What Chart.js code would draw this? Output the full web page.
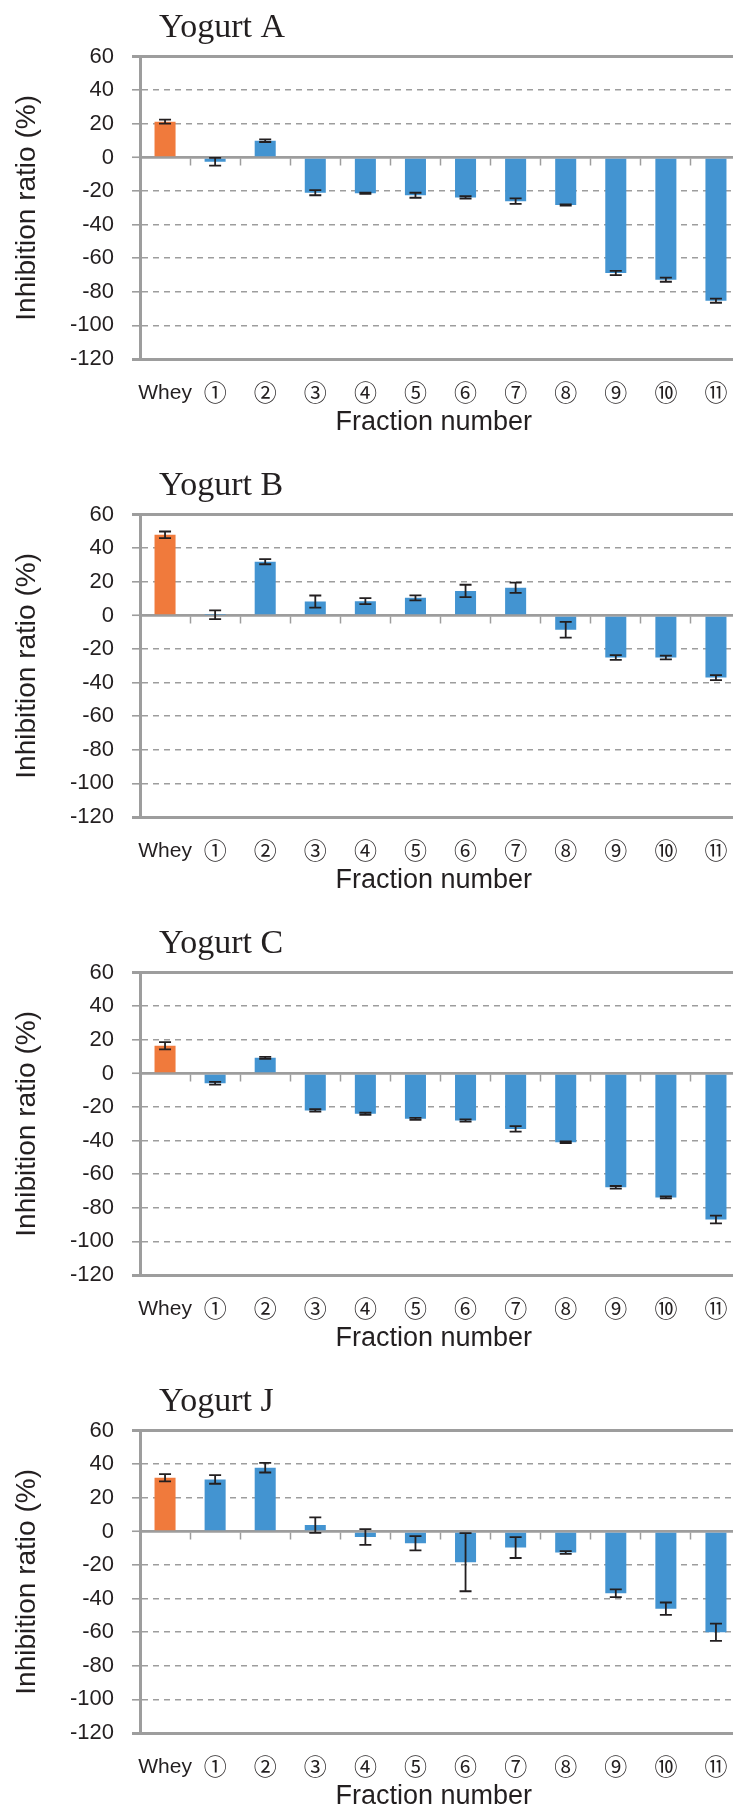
<!DOCTYPE html>
<html>
<head>
<meta charset="utf-8">
<script src="https://cdn.jsdelivr.net/npm/chart.js@4"></script>
<style>
html, body { margin:0; padding:0; overflow:hidden; background:#ffffff; width:733px; height:1807px; }
.panel { position:absolute; left:0; width:760px; height:458px; }
.panel canvas { display:block; }
</style>
</head>
<body>
<div class="panel" style="top:0px"><canvas id="chartA" width="760" height="458"></canvas></div>
<div class="panel" style="top:458px"><canvas id="chartB" width="760" height="458"></canvas></div>
<div class="panel" style="top:916px"><canvas id="chartC" width="760" height="458"></canvas></div>
<div class="panel" style="top:1374px"><canvas id="chartJ" width="760" height="458"></canvas></div>
<script>
// ---- data ----
const categories = ['Whey', '①', '②', '③', '④', '⑤', '⑥', '⑦', '⑧', '⑨', '⑩', '⑪'];
const yTickValues = [60, 40, 20, 0, -20, -40, -60, -80, -100, -120];

const yogurtA    = [21.3, -2.6, 10.0, -21.0, -21.3, -22.5, -23.8, -26.0, -28.3, -68.8, -72.8, -85.3];
const yogurtAErr = [1.2, 2.3, 0.8, 1.5, 0.3, 1.5, 0.7, 1.6, 0.4, 1.3, 1.2, 1.2];

const yogurtB    = [48.0, 0.4, 32.0, 8.3, 8.5, 10.5, 14.6, 16.5, -8.5, -25.0, -25.0, -37.0];
const yogurtBErr = [2.0, 2.6, 1.5, 3.6, 1.8, 1.5, 3.7, 3.0, 4.7, 1.4, 1.1, 1.5];

const yogurtC    = [16.5, -5.8, 9.3, -22.0, -24.0, -27.0, -28.0, -33.0, -41.0, -67.8, -73.8, -87.0];
const yogurtCErr = [2.2, 0.8, 0.6, 0.7, 0.6, 0.6, 0.7, 1.6, 0.5, 0.8, 0.6, 2.3];

const yogurtJ    = [32.0, 31.0, 38.0, 3.8, -3.3, -7.0, -18.3, -9.6, -12.5, -36.8, -46.0, -60.0];
const yogurtJErr = [2.2, 2.6, 2.9, 4.6, 4.7, 4.2, 17.3, 6.2, 0.8, 2.3, 3.7, 5.1];

// ---- styling ----
const SANS = "'Liberation Sans', 'Noto Sans CJK JP', sans-serif";
const SERIF = "'Liberation Serif', 'Times New Roman', serif";
const TEXT = '#231f20';
const AXIS = '#9d9d9d';
const ORANGE = '#F07A3C';
const BLUE = '#4394D1';

const errorBarPlugin = {
  id: 'errorBars',
  afterDatasetsDraw(chart) {
    const ctx = chart.ctx;
    const ys = chart.scales.y;
    chart.data.datasets.forEach((ds, di) => {
      const meta = chart.getDatasetMeta(di);
      if (!ds.errors) return;
      ctx.save();
      ctx.strokeStyle = TEXT;
      ctx.lineWidth = 1.8;
      meta.data.forEach((bar, i) => {
        const v = ds.data[i], e = ds.errors[i];
        const x = bar.x;
        const yt = ys.getPixelForValue(v + e);
        const yb = ys.getPixelForValue(v - e);
        ctx.beginPath();
        ctx.moveTo(x, yt); ctx.lineTo(x, yb);
        ctx.moveTo(x - 6, yt); ctx.lineTo(x + 6, yt);
        ctx.moveTo(x - 6, yb); ctx.lineTo(x + 6, yb);
        ctx.stroke();
      });
      ctx.restore();
    });
  }
};

const panelTitlePlugin = {
  id: 'panelTitle',
  afterDraw(chart, args, opts) {
    const { ctx, chartArea } = chart;
    ctx.save();
    ctx.font = '34px ' + SERIF;
    ctx.fillStyle = TEXT;
    ctx.textAlign = 'left';
    ctx.textBaseline = 'alphabetic';
    ctx.fillText(opts.text, chartArea.left + 19, chartArea.top - 19.5);
    ctx.restore();
  }
};

function isFrame(c) { return c.tick && (c.tick.value === 60 || c.tick.value === -120); }
function isZero(c) { return c.tick && c.tick.value === 0; }

function makeChart(id, title, values, errors) {
  const colors = categories.map((c, i) => i === 0 ? ORANGE : BLUE);
  return new Chart(document.getElementById(id), {
    type: 'bar',
    data: {
      labels: categories,
      datasets: [{
        data: values,
        errors: errors,
        backgroundColor: colors,
        borderWidth: 0,
        barPercentage: 0.42,
        categoryPercentage: 1.0,
        xAxisID: 'x',
        yAxisID: 'y'
      }]
    },
    options: {
      responsive: false,
      animation: false,
      devicePixelRatio: 1,
      layout: { padding: { top: 56.7, left: 0, right: 19, bottom: 18.8 } },
      plugins: {
        legend: { display: false },
        tooltip: { enabled: false },
        panelTitle: { text: title }
      },
      scales: {
        x: {
          type: 'category',
          position: 'bottom',
          offset: true,
          grid: { display: false },
          border: { display: false },
          ticks: {
            color: TEXT,
            font: c => ({ family: SANS, size: (c.index === 0 ? 21 : 23) }),
            padding: 14, maxRotation: 0, autoSkip: false
          },
          title: { display: true, text: 'Fraction number\u2002', color: TEXT, font: { family: SANS, size: 27 }, padding: { top: 0, bottom: 0 } },
          afterFit(s) { s.height = 80.2; s.paddingLeft = 0; s.paddingRight = 0; }
        },
        x2: {
          type: 'category',
          axis: 'x',
          position: { y: 0 },
          offset: true,
          grid: { offset: true, drawOnChartArea: false, drawTicks: true, tickLength: 7, tickColor: AXIS, tickWidth: 1.5 },
          border: { display: true, color: AXIS, width: 2.5 },
          ticks: { display: false },
          afterFit(s) { s.paddingLeft = 0; s.paddingRight = 0; }
        },
        y: {
          type: 'linear',
          position: 'left',
          min: -120,
          max: 60,
          afterBuildTicks(s) { s.ticks = yTickValues.map(v => ({ value: v })); },
          ticks: { color: TEXT, font: { family: SANS, size: 22 }, padding: 18 },
          grid: {
            color: AXIS,
            lineWidth: c => isFrame(c) ? 3 : (isZero(c) ? 2.5 : 1.6),
            tickLength: 8,
            tickColor: AXIS,
            tickWidth: c => isFrame(c) ? 3 : 1.6
          },
          border: {
            display: true,
            color: AXIS,
            width: 3,
            dash: c => (isFrame(c) || isZero(c)) ? [] : [6, 5]
          },
          title: { display: true, text: 'Inhibition ratio (%)', color: TEXT, font: { family: SANS, size: 28 }, padding: { top: 10, bottom: 0 } },
          afterFit(s) { s.width = 140; s.paddingTop = 0; s.paddingBottom = 0; }
        }
      }
    },
    plugins: [errorBarPlugin, panelTitlePlugin]
  });
}

makeChart('chartA', 'Yogurt A', yogurtA, yogurtAErr);
makeChart('chartB', 'Yogurt B', yogurtB, yogurtBErr);
makeChart('chartC', 'Yogurt C', yogurtC, yogurtCErr);
makeChart('chartJ', 'Yogurt J', yogurtJ, yogurtJErr);
</script>
</body>
</html>
